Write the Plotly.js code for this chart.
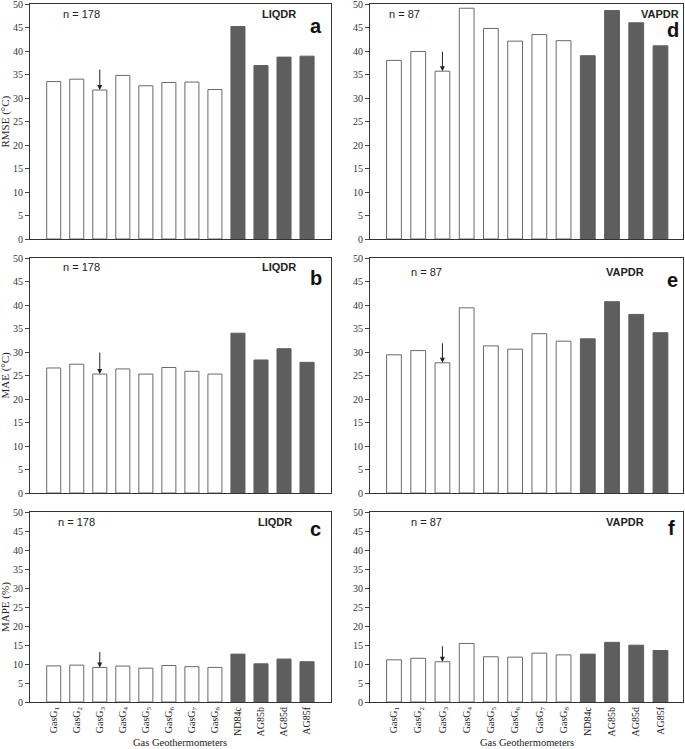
<!DOCTYPE html>
<html>
<head>
<meta charset="utf-8">
<script src="https://cdn.plot.ly/plotly-3.0.1.min.js"></script>
<style>html,body{margin:0;padding:0;background:#fff;}#chart{width:685px;height:749px;}</style>
</head>
<body>
<div id="chart"></div>
<script>
// ---- data ----
const categories = ['GasG<sub>1</sub>','GasG<sub>2</sub>','GasG<sub>3</sub>','GasG<sub>4</sub>','GasG<sub>5</sub>','GasG<sub>6</sub>','GasG<sub>7</sub>','GasG<sub>8</sub>','ND84c','AG85b','AG85d','AG85f'];
const rmseLiq = [33.5, 34.0, 31.7, 34.8, 32.6, 33.3, 33.4, 31.8, 45.2, 36.9, 38.7, 38.9];
const maeLiq  = [26.6, 27.4, 25.3, 26.4, 25.3, 26.7, 25.9, 25.3, 34.0, 28.3, 30.7, 27.8];
const mapeLiq = [9.5, 9.7, 9.1, 9.45, 8.9, 9.6, 9.3, 9.1, 12.6, 10.05, 11.3, 10.6];
const rmseVap = [38.0, 39.9, 35.7, 49.1, 44.8, 42.1, 43.5, 42.2, 39.0, 48.6, 46.0, 41.1];
const maeVap  = [29.4, 30.3, 27.7, 39.4, 31.3, 30.6, 33.9, 32.3, 32.8, 40.7, 38.0, 34.1];
const mapeVap = [11.1, 11.5, 10.6, 15.4, 11.9, 11.8, 12.85, 12.4, 12.6, 15.7, 14.95, 13.55];
const groupLabels = ['LIQDR', 'VAPDR'];
const sampleSizes = ['n = 178', 'n = 87'];
const panelLetters = ['a', 'b', 'c', 'd', 'e', 'f'];
const yTitles = ['RMSE (°C)', 'MAE (°C)', 'MAPE (%)'];
const xTitle = 'Gas Geothermometers';
const highlightIndex = 2; // GasG3 marked by arrow

// ---- layout geometry ----
const W = 685, H = 749;
const colX = [[30, 331], [370, 683]];
const rowY = [[4, 239], [258, 493], [512, 702]];
const colRange = [[-1.03, 12.04], [-0.99, 11.93]];
const serif = 'Liberation Serif, Times New Roman, serif';
const sans = 'Liberation Sans, Arial, sans-serif';

const panels = [
  {vals: rmseLiq, col: 0, row: 0},
  {vals: maeLiq,  col: 0, row: 1},
  {vals: mapeLiq, col: 0, row: 2},
  {vals: rmseVap, col: 1, row: 0},
  {vals: maeVap,  col: 1, row: 1},
  {vals: mapeVap, col: 1, row: 2}
];
// annotation positions (fraction of panel domain)
const annPos = [
  {n: [0.17, 0.957], g: [0.827, 0.957], l: [0.95, 0.906], arrow: 22},
  {n: [0.17, 0.962], g: [0.827, 0.962], l: [0.95, 0.915], arrow: 23},
  {n: [0.156, 0.947], g: [0.814, 0.947], l: [0.95, 0.91], arrow: 17},
  {n: [0.109, 0.957], g: [0.926, 0.957], l: [0.968, 0.89], arrow: 21},
  {n: [0.18, 0.94], g: [0.815, 0.94], l: [0.965, 0.906], arrow: 21},
  {n: [0.18, 0.947], g: [0.815, 0.947], l: [0.964, 0.916], arrow: 17}
];

const traces = [];
const layout = {
  width: W, height: H,
  margin: {l: 0, r: 0, t: 0, b: 0},
  paper_bgcolor: '#fff', plot_bgcolor: '#fff',
  showlegend: false,
  annotations: [],
  font: {family: serif, color: '#222'}
};

panels.forEach((p, i) => {
  const k = i + 1;
  const xa = 'xaxis' + (k === 1 ? '' : k);
  const ya = 'yaxis' + (k === 1 ? '' : k);
  const xr = 'x' + (k === 1 ? '' : k);
  const yr = 'y' + (k === 1 ? '' : k);
  const fills = p.vals.map((v, j) => j < 8 ? '#ffffff' : '#5e5e5e');
  const lines = p.vals.map((v, j) => j < 8 ? '#6a6a6a' : '#5e5e5e');
  traces.push({
    type: 'bar', x: categories, y: p.vals, xaxis: xr, yaxis: yr,
    width: 0.61,
    marker: {color: fills, line: {color: lines, width: 1}},
    hoverinfo: 'skip'
  });
  const isBottom = p.row === 2;
  layout[xa] = {
    domain: [colX[p.col][0] / W, colX[p.col][1] / W],
    anchor: yr, type: 'category', range: colRange[p.col],
    showline: true, linecolor: '#333', linewidth: 1, mirror: true,
    ticks: '', showgrid: false, zeroline: false,
    showticklabels: isBottom, tickangle: -90,
    ticklabeloverflow: 'allow',
    tickfont: {family: serif, size: 10, color: '#222'},
    fixedrange: true
  };
  layout[ya] = {
    domain: [1 - rowY[p.row][1] / H, 1 - rowY[p.row][0] / H],
    anchor: xr, range: [0, 50], dtick: 5,
    showline: true, linecolor: '#333', linewidth: 1, mirror: true,
    ticks: 'outside', ticklen: 4, tickcolor: '#444', tickwidth: 1,
    showgrid: false, zeroline: false,
    ticklabeloverflow: 'allow',
    tickfont: {family: serif, size: 10, color: '#333'},
    fixedrange: true
  };
  const a = annPos[i];
  layout.annotations.push(
    {xref: xr + ' domain', yref: yr + ' domain', x: a.n[0], y: a.n[1], text: sampleSizes[p.col],
     showarrow: false, xanchor: 'center', yanchor: 'middle', font: {family: sans, size: 11, color: '#222'}},
    {xref: xr + ' domain', yref: yr + ' domain', x: a.g[0], y: a.g[1], text: '<b>' + groupLabels[p.col] + '</b>',
     showarrow: false, xanchor: 'center', yanchor: 'middle', font: {family: sans, size: 11, color: '#222'}},
    {xref: xr + ' domain', yref: yr + ' domain', x: a.l[0], y: a.l[1], text: '<b>' + panelLetters[i] + '</b>',
     showarrow: false, xanchor: 'center', yanchor: 'middle', font: {family: sans, size: 20, color: '#111'}},
    {xref: xr, yref: yr, x: categories[highlightIndex], y: p.vals[highlightIndex],
     ax: 0, ay: -a.arrow, showarrow: true, arrowhead: 2, arrowsize: 1, arrowwidth: 1,
     arrowcolor: '#222', standoff: 0, text: ''}
  );
  if (p.col === 0) {
    layout.annotations.push({
      xref: 'paper', yref: 'paper', x: 5 / W, y: 1 - (rowY[p.row][0] + rowY[p.row][1]) / 2 / H,
      text: yTitles[p.row], textangle: -90, showarrow: false,
      xanchor: 'center', yanchor: 'middle', font: {family: serif, size: 11, color: '#222'}
    });
  }
  if (isBottom) {
    layout.annotations.push({
      xref: 'paper', yref: 'paper', x: (colX[p.col][0] + colX[p.col][1]) / 2 / W, y: 1 - 742 / H,
      text: xTitle, showarrow: false, xanchor: 'center', yanchor: 'middle',
      font: {family: serif, size: 10.5, color: '#222'}
    });
  }
});

Plotly.newPlot('chart', traces, layout, {staticPlot: true, displayModeBar: false});
</script>
</body>
</html>
